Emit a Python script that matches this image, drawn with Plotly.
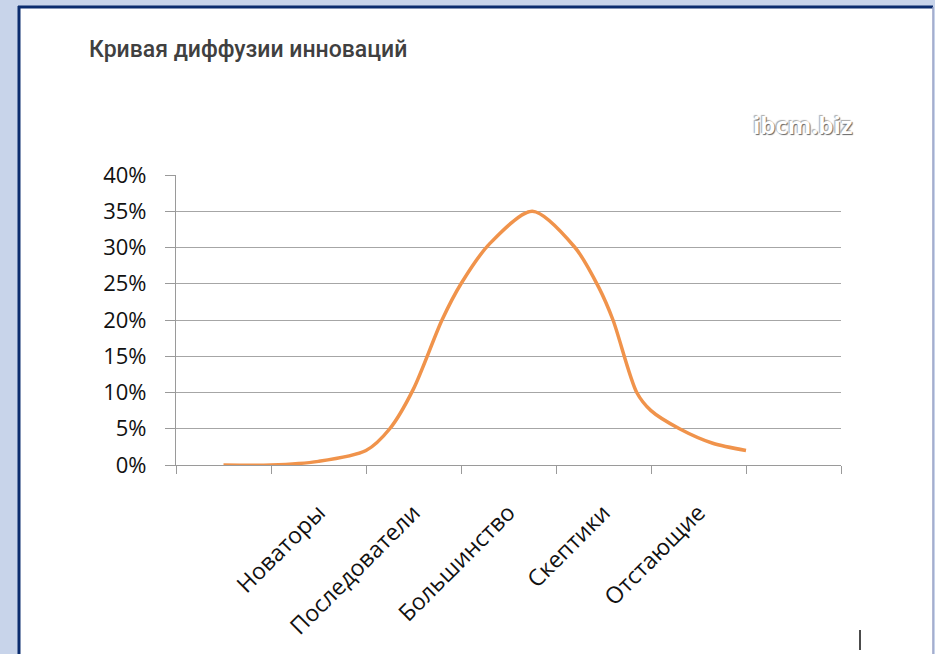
import plotly.graph_objects as go

# Category labels along the horizontal axis (placed at category centres)
categories = ["Новаторы", "Последователи", "Большинство", "Скептики", "Отстающие"]
category_pos = [1.5, 2.5, 3.5, 4.5, 5.5]

# Curve: position along axis and share of adopters (%)
curve_x = [0.5, 1.0, 1.5, 2.0, 2.25, 2.5, 2.8, 3.0, 3.3, 3.75, 4.2, 4.45, 4.6, 4.85, 5.0, 5.3, 5.65, 6.0]
curve_y = [0.0, 0.0, 0.5, 2.0, 5.0, 10.5, 20.0, 25.0, 30.5, 35.0, 30.0, 24.5, 20.0, 10.0, 7.5, 5.0, 3.0, 2.0]

y_ticks = [0, 5, 10, 15, 20, 25, 30, 35, 40]
x_ticks = [0, 1, 2, 3, 4, 5, 6, 7]

W, H = 935, 654
L, R, T, B = 176, 94, 175, 189
PW, PH = W - L - R, H - T - B


def px(x):
    return (x - L) / PW


def py(y):
    return 1 - (y - T) / PH


fig = go.Figure()
fig.add_trace(go.Scatter(
    x=curve_x, y=curve_y, mode="lines",
    line=dict(color="#F0934B", width=3.5, shape="spline", smoothing=0.8),
    hoverinfo="skip", showlegend=False,
))

shapes = [
    # white panel
    dict(type="rect", xref="paper", yref="paper", layer="below",
         x0=px(19), x1=px(933), y0=py(7), y1=py(H + 5),
         fillcolor="white", line=dict(width=0)),
    # navy left / top border
    dict(type="line", xref="paper", yref="paper", layer="below",
         x0=px(19), x1=px(19), y0=py(6), y1=py(H + 5),
         line=dict(color="#0B2C6E", width=3)),
    dict(type="line", xref="paper", yref="paper", layer="below",
         x0=px(18), x1=px(933), y0=py(7), y1=py(7),
         line=dict(color="#0B2C6E", width=3)),
    # thin right border
    dict(type="line", xref="paper", yref="paper", layer="below",
         x0=px(933), x1=px(933), y0=py(7), y1=py(H + 5),
         line=dict(color="#98A2C6", width=1.5)),
    # small cursor mark bottom right
    dict(type="line", xref="paper", yref="paper",
         x0=px(860), x1=px(860), y0=py(630), y1=py(650),
         line=dict(color="#111111", width=1.5)),
]

annotations = [
    dict(text="Кривая диффузии инноваций", xref="paper", yref="paper",
         x=px(87), y=py(49), xanchor="left", yanchor="middle", showarrow=False,
         font=dict(family="Roboto", size=23, color="#404040", weight=500)),
    dict(text="<b>ibcm.biz</b>", xref="paper", yref="paper",
         x=px(802), y=py(124), xanchor="center", yanchor="middle", showarrow=False,
         font=dict(family="Open Sans", size=24, color="#ffffff",
                   shadow="1px 1px 1px #666, -1px -1px 1px #aaa")),
]

fig.update_layout(
    width=W, height=H,
    margin=dict(l=L, r=R, t=T, b=B),
    paper_bgcolor="#C8D4EA", plot_bgcolor="white",
    shapes=shapes, annotations=annotations,
    xaxis=dict(
        range=[0, 7], tickmode="array", tickvals=category_pos, ticktext=categories,
        tickangle=-45, ticks="", showgrid=False, zeroline=False,
        showline=True, linecolor="#9A9A9A", linewidth=1.2,
        ticklabelstandoff=24,
        tickfont=dict(family="Open Sans", size=23, color="#111111"),
        minor=dict(tickmode="array", tickvals=x_ticks, ticks="outside",
                   ticklen=8, tickcolor="#9A9A9A", tickwidth=1.2, showgrid=False),
    ),
    yaxis=dict(
        range=[0, 40], tickmode="array", tickvals=y_ticks,
        ticktext=[f"{v}%" for v in y_ticks],
        ticks="outside", ticklen=10, tickcolor="#9A9A9A", tickwidth=1.2,
        showgrid=True, gridcolor="#A6A6A6", gridwidth=1.2, zeroline=False,
        showline=True, linecolor="#9A9A9A", linewidth=1.2,
        ticklabelstandoff=14,
        tickfont=dict(family="Open Sans", size=22, color="#111111"),
    ),
)

fig.write_html("out.html", config={"displayModeBar": False},
               post_script="document.body.style.margin='0';")
